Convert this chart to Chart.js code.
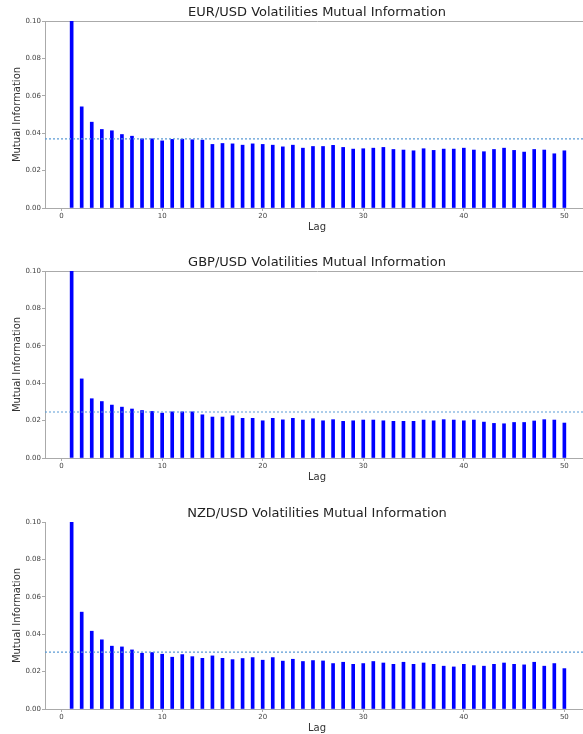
<!DOCTYPE html>
<html lang="en">
<head>
<meta charset="UTF-8">
<title>Volatilities Mutual Information</title>
<style>
  html, body { margin: 0; padding: 0; background: #fff; overflow: hidden; width: 583px; height: 734px; }
  .panel { position: absolute; left: 0; width: 589px; height: 240px; }
  .panel canvas { display: block; }
</style>
</head>
<body>
<div class="panel" style="top:0px"><canvas id="eurChart" width="589" height="240"></canvas></div>
<div class="panel" style="top:250px"><canvas id="gbpChart" width="589" height="240"></canvas></div>
<div class="panel" style="top:501px"><canvas id="nzdChart" width="589" height="240"></canvas></div>

<script src="https://cdn.jsdelivr.net/npm/chart.js"></script>
<script>
// lags and mutual information
const lags = [1, 2, 3, 4, 5, 6, 7, 8, 9, 10,
  11, 12, 13, 14, 15, 16, 17, 18, 19, 20,
  21, 22, 23, 24, 25, 26, 27, 28, 29, 30,
  31, 32, 33, 34, 35, 36, 37, 38, 39, 40,
  41, 42, 43, 44, 45, 46, 47, 48, 49, 50];

const eurMI = [0.100, 0.0541, 0.0459, 0.0420, 0.0413, 0.0393, 0.0384, 0.0370, 0.0370, 0.0359,
  0.0367, 0.0368, 0.0365, 0.0363, 0.0340, 0.0345, 0.0343, 0.0336, 0.0343, 0.0340,
  0.0336, 0.0327, 0.0336, 0.0320, 0.0329, 0.0329, 0.0335, 0.0324, 0.0315, 0.0317,
  0.0320, 0.0324, 0.0313, 0.0310, 0.0306, 0.0317, 0.0308, 0.0315, 0.0315, 0.0320,
  0.0310, 0.0301, 0.0313, 0.0320, 0.0308, 0.0299, 0.0313, 0.0310, 0.0290, 0.0306];

const gbpMI = [0.100, 0.0423, 0.0317, 0.0302, 0.0283, 0.0272, 0.0262, 0.0254, 0.0249, 0.0240,
  0.0247, 0.0247, 0.0247, 0.0231, 0.0219, 0.0219, 0.0226, 0.0212, 0.0212, 0.0199,
  0.0212, 0.0204, 0.0212, 0.0203, 0.0210, 0.0199, 0.0205, 0.0196, 0.0199, 0.0203,
  0.0203, 0.0199, 0.0196, 0.0196, 0.0196, 0.0203, 0.0199, 0.0205, 0.0203, 0.0199,
  0.0203, 0.0192, 0.0185, 0.0183, 0.0190, 0.0190, 0.0198, 0.0205, 0.0203, 0.0187];

const nzdMI = [0.100, 0.0518, 0.0416, 0.0370, 0.0336, 0.0332, 0.0316, 0.0298, 0.0302, 0.0293,
  0.0277, 0.0291, 0.0280, 0.0271, 0.0284, 0.0271, 0.0264, 0.0270, 0.0275, 0.0261,
  0.0275, 0.0256, 0.0266, 0.0254, 0.0259, 0.0257, 0.0243, 0.0250, 0.0239, 0.0243,
  0.0254, 0.0246, 0.0239, 0.0250, 0.0239, 0.0246, 0.0239, 0.0229, 0.0225, 0.0239,
  0.0232, 0.0229, 0.0239, 0.0246, 0.0239, 0.0236, 0.0250, 0.0229, 0.0243, 0.0216];

// dotted reference levels
const eurLevel = 0.0370;
const gbpLevel = 0.0246;
const nzdLevel = 0.0304;

const xRange = [-1.65, 52.45];
const xTicks = [0, 10, 20, 30, 40, 50];
const yTicks = [0, 0.02, 0.04, 0.06, 0.08, 0.10];

const FONT = "'DejaVu Sans', sans-serif";
const SPINE = '#aaaaaa';

function makeChart(id, title, values, level, topSpine) {
  const scales = {
    x: {
      type: 'linear',
      min: xRange[0],
      max: xRange[1],
      offset: false,
      afterBuildTicks: s => { s.ticks = xTicks.map(v => ({ value: v })); },
      afterFit: s => { s.height = 32; },
      grid: { display: true, drawOnChartArea: false, drawTicks: true, tickLength: 3, color: SPINE, offset: false },
      border: { display: true, color: SPINE, width: 1 },
      ticks: { font: { family: FONT, size: 7 }, color: '#444', padding: 1, maxRotation: 0 },
      title: { display: true, text: 'Lag', font: { family: FONT, size: 10 }, color: '#333', padding: { top: 0, bottom: 7 } }
    },
    y: {
      min: 0,
      max: 0.1,
      afterBuildTicks: s => { s.ticks = yTicks.map(v => ({ value: v })); },
      afterFit: s => { s.width = 45; },
      grid: { display: true, drawOnChartArea: false, drawTicks: true, tickLength: 3, color: SPINE },
      border: { display: true, color: SPINE, width: 1 },
      ticks: { font: { family: FONT, size: 7 }, color: '#444', padding: 1, callback: v => v.toFixed(2) },
      title: { display: true, text: 'Mutual Information', font: { family: FONT, size: 10 }, color: '#333', padding: { top: 11, bottom: 0 } }
    }
  };
  if (topSpine) {
    scales.xTop = {
      type: 'linear', axis: 'x', position: 'top',
      min: xRange[0], max: xRange[1],
      afterFit: s => { s.height = 0; },
      grid: { display: false },
      ticks: { display: false },
      border: { display: true, color: SPINE, width: 1 }
    };
  }

  return new Chart(document.getElementById(id), {
    type: 'bar',
    data: {
      datasets: [
        {
          type: 'line',
          data: xRange.map(x => ({ x: x, y: level })),
          borderColor: '#5b9bd5',
          borderWidth: 1.2,
          borderDash: [2, 2],
          pointRadius: 0,
          fill: false,
          order: 0
        },
        {
          type: 'bar',
          data: lags.map((l, i) => ({ x: l, y: values[i] })),
          backgroundColor: '#0000ff',
          borderWidth: 0,
          barThickness: 3,
          order: 1
        }
      ]
    },
    options: {
      responsive: false,
      animation: false,
      layout: { padding: 0 },
      plugins: {
        legend: { display: false },
        tooltip: { enabled: false },
        title: {
          display: true,
          text: title,
          fullSize: false,
          color: '#222',
          font: { family: FONT, size: 13, weight: 'normal' },
          padding: { top: 5, bottom: 0.4 }
        }
      },
      scales: scales
    }
  });
}

makeChart('eurChart', 'EUR/USD Volatilities Mutual Information', eurMI, eurLevel, true);
makeChart('gbpChart', 'GBP/USD Volatilities Mutual Information', gbpMI, gbpLevel, true);
makeChart('nzdChart', 'NZD/USD Volatilities Mutual Information', nzdMI, nzdLevel, false);
</script>
</body>
</html>
